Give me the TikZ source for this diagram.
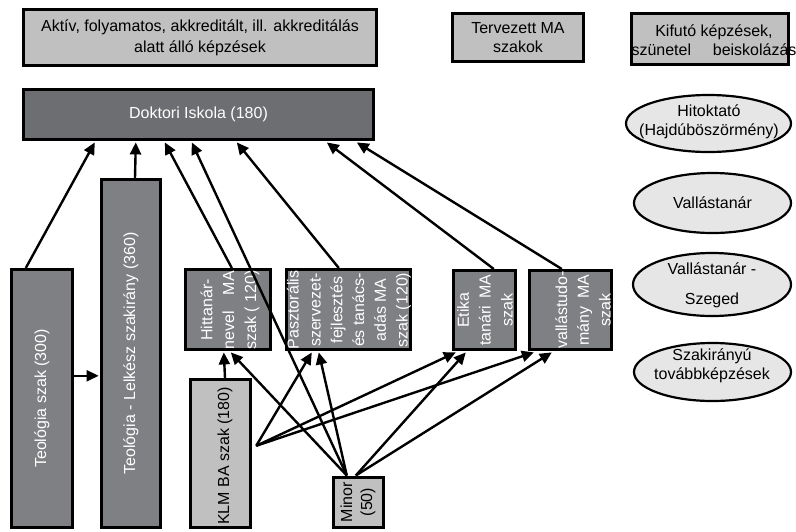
\documentclass[tikz,border=0pt]{standalone}
\usepackage{fontspec}
\setmainfont{Liberation Sans}
\usetikzlibrary{arrows.meta,shapes.geometric,calc}
\definecolor{lgray}{HTML}{C0C0C0}
\definecolor{dgray}{HTML}{6D6E71}
\definecolor{mgray}{HTML}{7F8083}
\definecolor{egray}{HTML}{E6E6E6}
\begin{document}
\begin{tikzpicture}[x=1pt,y=-1pt,
  box/.style={draw=black,line width=2.8pt,inner sep=0pt,rectangle},
  lbox/.style={box,fill=lgray},
  dbox/.style={box,fill=dgray,text=white},
  mbox/.style={box,fill=mgray},
  ell/.style={ellipse,draw=black,line width=2.2pt,fill=egray,inner sep=0pt},
  txt/.style={font=\fontsize{16}{21}\selectfont,align=center,inner sep=0pt},
  txtb/.style={font=\fontsize{16}{19.5}\selectfont,align=center,inner sep=0pt},
  rtxt/.style={rotate=90,text=white,font=\fontsize{16}{21.8}\selectfont,align=center,inner sep=0pt},
  arr/.style={line width=2.4pt,-{Triangle[length=12pt,width=11pt]}},
]
\useasboundingbox (0,0) rectangle (796,531);

% top row
\node[lbox,txt,minimum width=353.2pt,minimum height=56.2pt] (akt) at (200,37.5)
  {Aktív, folyamatos, akkreditált, ill. akkreditálás\\alatt álló képzések};
\node[lbox,txtb,minimum width=131.2pt,minimum height=48.2pt] (terv) at (518,37.5)
  {Tervezett MA\\szakok};
\node[lbox,minimum width=157.2pt,minimum height=51.2pt] (kif) at (710,39) {};
\node[txtb] (kift) at (714,40) {Kifutó képzések,\\\makebox[165pt][s]{szünetel beiskolázás}};

% Doktori Iskola
\node[dbox,txt,minimum width=350.2pt,minimum height=50.2pt] (doc) at (198.5,114.5) {Doktori Iskola (180)};

% ellipses
\node[ell,minimum width=165pt,minimum height=57pt] (hit) at (708.5,123.5) {};
\node[txtb] (hitt-t) at (709,122) {Hitoktató\\(Hajdúböszörmény)};
\node[ell,minimum width=157pt,minimum height=60pt] (vall) at (712.5,203) {};
\node[txt] (vall-t) at (vall.center) {Vallástanár};
\node[ell,minimum width=158pt,minimum height=63pt] (szeg) at (712,284.5) {};
\node[font=\fontsize{16}{30}\selectfont,align=center,inner sep=0pt] (szeg-t) at (712,285) {Vallástanár -\\Szeged};
\node[ell,minimum width=157pt,minimum height=58pt] (szak) at (712.5,372) {};
\node[txtb] (szak-t) at (712,366) {Szakirányú\\továbbképzések};

% lower boxes
\node[mbox,minimum width=61.2pt,minimum height=258.2pt] (teol) at (42,398.5) {};
\node[rtxt] (teol-t) at (teol.center) {Teológia szak (300)};
\node[mbox,minimum width=59.2pt,minimum height=348.2pt] (lelk) at (131,353.5) {};
\node[rtxt] (lelk-t) at (lelk.center) {Teológia - Lelkész szakirány (360)};
\node[mbox,minimum width=85.2pt,minimum height=80.2pt] (hitt) at (228,309.5) {};
\node[rtxt] (hitt-x) at (230,310) {Hittanár-\\\makebox[78pt][s]{nevel MA}\\szak ( 120)};
\node[mbox,minimum width=124.2pt,minimum height=80.2pt] (pasz) at (348.5,309.5) {};
\node[rtxt] (pasz-t) at (349,310) {Pasztorális\\szervezet-\\fejlesztés\\és tanács-\\adás MA\\szak (120)};
\node[mbox,minimum width=62.2pt,minimum height=79.2pt] (etik) at (484.5,310) {};
\node[rtxt] (etik-t) at (485,310) {Etika\\\makebox[71pt][s]{tanári MA}\\szak};
\node[mbox,minimum width=82.2pt,minimum height=79.2pt] (valt) at (570.5,310) {};
\node[rtxt] (valt-t) at (583,310) {vallástudo-\\\makebox[71pt][s]{mány MA}\\szak};
\node[lbox,minimum width=60.2pt,minimum height=148.2pt] (klm) at (220.5,453.5) {};
\node[rtxt,text=black] (klm-t) at (225,456) {KLM BA szak (180)};
\node[lbox,minimum width=50.2pt,minimum height=50.2pt] (minor) at (358.5,502.5) {};
\node[rtxt,text=black,font=\fontsize{16}{20}\selectfont] (minor-t) at (358,502) {Minor\\(50)};

% free tails
\coordinate (klmout) at ($(klm.north east)+(4.2,67.8)$);
\coordinate (minA) at ($(minor.north west)+(14.8,-0.5)$);
\coordinate (minB) at ($(minor.north west)+(23.8,-0.5)$);

% arrows to Doktori Iskola
\draw[arr] ($(teol.north west)+(15.8,0)$) -- ($(doc.south west)+(72.8,1.4)$);
\draw[arr] ($(lelk.north)+(4,0)$) -- ($(doc.south west)+(113.8,1.4)$);
\draw[arr] ($(hitt.north west)+(47.8,0)$) -- ($(doc.south west)+(142.8,1.4)$);
\draw[arr] (minA) -- ($(doc.south west)+(169.8,1.4)$);
\draw[arr] ($(pasz.north west)+(53.8,0)$) -- ($(doc.south west)+(214.8,1.4)$);
\draw[arr] ($(etik.north west)+(41.8,0)$) -- ($(doc.south west)+(304.8,1.4)$);
\draw[arr] ($(valt.north west)+(33.8,0)$) -- ($(doc.south west)+(334.8,1.4)$);

% Teologia -> Lelkesz
\draw[arr] ($(teol.north east)+(0,107.8)$) -- ($(lelk.north west)+(-1.4,197.8)$);

% KLM and Minor to MA
\draw[arr] ($(klm.north)+(4.5,0)$) -- ($(hitt.south west)+(39.8,1.4)$);
\draw[arr] (minA) -- ($(hitt.south west)+(46.8,1.4)$);
\draw[arr] (minA) -- ($(pasz.south west)+(33.8,1.4)$);
\draw[arr] (klmout) -- ($(pasz.south west)+(26.8,1.4)$);
\draw[arr] (klmout) -- ($(etik.south west)+(3.8,1.4)$);
\draw[arr] (klmout) -- ($(valt.south west)+(5.8,1.4)$);
\draw[arr] (minB) -- ($(etik.south west)+(13.8,1.4)$);
\draw[arr] (minB) -- ($(valt.south west)+(23.8,1.4)$);
\end{tikzpicture}
\end{document}
